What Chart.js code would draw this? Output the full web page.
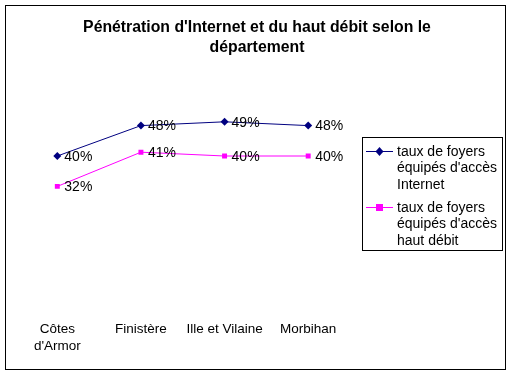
<!DOCTYPE html>
<html>
<head>
<meta charset="utf-8">
<script src="https://cdn.jsdelivr.net/npm/chart.js@4/dist/chart.umd.min.js"></script>
<style>
  html, body { margin: 0; padding: 0; background: #fff; }
  canvas { display: block; }
</style>
</head>
<body>
<canvas id="chart" width="512" height="375"></canvas>
<script>
"use strict"

// values, in %
const departements = [['Côtes', "d'Armor"], 'Finistère', 'Ille et Vilaine', 'Morbihan'];
const internet = [40, 48, 49, 48];
const hautDebit = [32, 41, 40, 40];
const seriesNames = [
  ['taux de foyers', "équipés d'accès", 'Internet'],
  ['taux de foyers', "équipés d'accès", 'haut débit']
];
const titleLines = ["Pénétration d'Internet et du haut débit selon le", 'département'];

const FONT = '"Liberation Sans", Arial, sans-serif';

// title over the whole frame, value labels, outer frame, boxed legend
const excelLook = {
  id: 'excelLook',
  afterDatasetsDraw(chart) {
    const ctx = chart.ctx;
    ctx.save();
    ctx.font = '14px ' + FONT;
    ctx.fillStyle = '#000';
    ctx.textBaseline = 'middle';
    ctx.textAlign = 'left';
    chart.data.datasets.forEach((ds, i) => {
      chart.getDatasetMeta(i).data.forEach((pt, j) => {
        ctx.fillText(ds.data[j] + '%', pt.x + 7, pt.y + 1);
      });
    });
    ctx.restore();
  },
  afterDraw(chart) {
    const ctx = chart.ctx;
    ctx.save();
    ctx.strokeStyle = '#000';
    ctx.lineWidth = 1;
    ctx.strokeRect(5.5, 5.5, 500, 364);

    ctx.fillStyle = '#000';
    ctx.textAlign = 'center';
    ctx.textBaseline = 'middle';
    ctx.font = 'bold 15.8px ' + FONT;
    titleLines.forEach((t, k) => ctx.fillText(t, 257, 27.5 + k * 20));

    // legend
    ctx.textAlign = 'left';
    ctx.strokeRect(362.5, 137.5, 140, 113);
    ctx.font = '14px ' + FONT;
    const starts = [151, 207];
    chart.data.datasets.forEach((ds, i) => {
      const y = starts[i];
      ctx.strokeStyle = ds.borderColor;
      ctx.beginPath();
      ctx.moveTo(366, y + 0.5);
      ctx.lineTo(393, y + 0.5);
      ctx.stroke();
      ctx.fillStyle = ds.borderColor;
      ctx.beginPath();
      if (ds.pointStyle === 'rectRot') {
        ctx.moveTo(379.5, y - 4);
        ctx.lineTo(383.5, y + 0.5);
        ctx.lineTo(379.5, y + 5);
        ctx.lineTo(375.5, y + 0.5);
        ctx.closePath();
      } else {
        ctx.rect(376, y - 3, 7, 7);
      }
      ctx.fill();
      ctx.fillStyle = '#000';
      seriesNames[i].forEach((line, k) => {
        ctx.fillText(line, 397, y + 1 + k * 16.4);
      });
    });
    ctx.restore();
  }
};

new Chart(document.getElementById('chart'), {
  type: 'line',
  data: {
    labels: departements,
    datasets: [{
      label: 'taux de foyers équipés d\'accès Internet',
      data: internet,
      borderColor: '#000080',
      backgroundColor: '#000080',
      borderWidth: 1,
      pointStyle: 'rectRot',
      pointRadius: 4,
      pointHoverRadius: 4,
      pointBorderWidth: 0,
      tension: 0
    }, {
      label: 'taux de foyers équipés d\'accès haut débit',
      data: hautDebit,
      borderColor: '#FF00FF',
      backgroundColor: '#FF00FF',
      borderWidth: 1,
      pointStyle: 'rect',
      pointRadius: 3.5,
      pointHoverRadius: 3.5,
      pointBorderWidth: 0,
      tension: 0
    }]
  },
  options: {
    responsive: false,
    animation: false,
    layout: { padding: { left: 15.5, right: 162, top: 80, bottom: 0 } },
    plugins: {
      legend: { display: false },
      tooltip: { enabled: false },
      title: { display: false }
    },
    scales: {
      x: {
        offset: true,
        grid: { display: false },
        border: { display: false },
        ticks: {
          color: '#000',
          padding: 4.5,
          maxRotation: 0,
          autoSkip: false,
          font: { family: FONT, size: 13.5, lineHeight: 1.27 }
        },
        afterFit(scale) { scale.height = 67; }
      },
      y: {
        display: false,
        min: 0,
        max: 60
      }
    }
  },
  plugins: [excelLook]
});
</script>
</body>
</html>
